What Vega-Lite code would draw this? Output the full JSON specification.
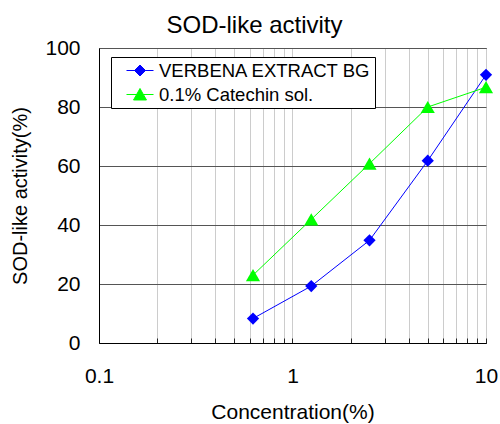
{
  "$schema": "https://vega.github.io/schema/vega-lite/v6.json",
  "width": 387,
  "height": 295,
  "autosize": {"type": "none"},
  "padding": {"left": 99, "top": 48, "right": 14, "bottom": 81},
  "background": "white",
  "config": {
    "font": "Liberation Sans",
    "view": {"stroke": "black", "strokeWidth": 1}
  },
  "title": {
    "text": "SOD-like activity",
    "fontSize": 24,
    "fontWeight": "normal",
    "color": "black",
    "anchor": "middle",
    "dx": -38,
    "offset": -1
  },
  "data": {
    "values": [
      {"conc": 0.625, "activity": 8.3, "series": "VERBENA EXTRACT BG"},
      {"conc": 1.25, "activity": 19.3, "series": "VERBENA EXTRACT BG"},
      {"conc": 2.5, "activity": 34.8, "series": "VERBENA EXTRACT BG"},
      {"conc": 5, "activity": 61.8, "series": "VERBENA EXTRACT BG"},
      {"conc": 10, "activity": 90.9, "series": "VERBENA EXTRACT BG"},
      {"conc": 0.625, "activity": 23, "series": "0.1% Catechin sol."},
      {"conc": 1.25, "activity": 41.9, "series": "0.1% Catechin sol."},
      {"conc": 2.5, "activity": 60.8, "series": "0.1% Catechin sol."},
      {"conc": 5, "activity": 80, "series": "0.1% Catechin sol."},
      {"conc": 10, "activity": 86.7, "series": "0.1% Catechin sol."}
    ]
  },
  "encoding": {
    "x": {
      "field": "conc",
      "type": "quantitative",
      "scale": {"type": "log", "domain": [0.1, 10]},
      "axis": {
        "title": "Concentration(%)",
        "titleFontSize": 21,
        "titleFontWeight": "normal",
        "titleColor": "black",
        "titlePadding": 15,
        "values": [0.1, 0.2, 0.3, 0.4, 0.5, 0.6, 0.7, 0.8, 0.9, 1, 2, 3, 4, 5, 6, 7, 8, 9, 10],
        "format": "~g",
        "labelExpr": "(datum.value == 0.1 || datum.value == 1 || datum.value == 10) ? datum.label : ''",
        "labelFontSize": 21,
        "labelColor": "black",
        "labelPadding": 27,
        "labelOverlap": false,
        "labelFlush": false,
        "domainColor": "black",
        "ticks": true,
        "tickSize": -5,
        "tickColor": "#222222",
        "grid": true,
        "gridColor": "#cccccc",
        "gridWidth": 1
      }
    },
    "y": {
      "field": "activity",
      "type": "quantitative",
      "scale": {"domain": [0, 100]},
      "axis": {
        "title": "SOD-like activity(%)",
        "titleFontSize": 20,
        "titleFontWeight": "normal",
        "titleColor": "black",
        "titlePadding": 14,
        "values": [0, 20, 40, 60, 80, 100],
        "labelFontSize": 21,
        "labelColor": "black",
        "labelPadding": 19,
        "ticks": false,
        "domainColor": "black",
        "grid": true,
        "gridColor": "#555555",
        "gridWidth": 1.2
      }
    }
  },
  "layer": [
    {
      "mark": {"type": "line", "strokeWidth": 1},
      "encoding": {
        "color": {
          "field": "series",
          "type": "nominal",
          "scale": {"domain": ["VERBENA EXTRACT BG", "0.1% Catechin sol."], "range": ["#0000ff", "#00ff00"]},
          "legend": null
        }
      }
    },
    {
      "mark": {"type": "point", "filled": true, "opacity": 1},
      "encoding": {
        "color": {"field": "series", "type": "nominal", "legend": null},
        "shape": {
          "field": "series",
          "type": "nominal",
          "scale": {"domain": ["VERBENA EXTRACT BG", "0.1% Catechin sol."], "range": ["diamond", "triangle-up"]},
          "legend": null
        },
        "size": {
          "field": "series",
          "type": "nominal",
          "scale": {"domain": ["VERBENA EXTRACT BG", "0.1% Catechin sol."], "range": [150, 200]},
          "legend": null
        }
      }
    },
    {
      "mark": {"type": "point", "opacity": 0},
      "encoding": {
        "fill": {
          "field": "series",
          "type": "nominal",
          "scale": {"domain": ["VERBENA EXTRACT BG", "0.1% Catechin sol."], "range": ["#0000ff", "#00ff00"]}
        },
        "stroke": {
          "field": "series",
          "type": "nominal",
          "scale": {"domain": ["VERBENA EXTRACT BG", "0.1% Catechin sol."], "range": ["#0000ff", "#00ff00"]}
        },
        "shape": {
          "field": "series",
          "type": "nominal",
          "scale": {
            "domain": ["VERBENA EXTRACT BG", "0.1% Catechin sol."],
            "range": ["M-1.5,0H1.5M0,-0.61L0.61,0L0,0.61L-0.61,0Z", "M-1.5,0H1.5M0,-0.67L0.72,0.61L-0.72,0.61Z"]
          },
          "legend": {
            "title": null,
            "orient": "none",
            "legendX": 12,
            "legendY": 9,
            "strokeColor": "black",
            "fillColor": "white",
            "padding": 4,
            "symbolOffset": 15.5,
            "labelFontSize": 18.5,
            "labelColor": "black",
            "labelLimit": 0,
            "labelOffset": 9.5,
            "symbolSize": 324,
            "symbolOpacity": 1,
            "symbolStrokeWidth": 1,
            "rowPadding": 5
          }
        }
      }
    }
  ],
  "resolve": {
    "scale": {"shape": "independent", "size": "independent", "fill": "independent", "stroke": "independent"},
    "legend": {"shape": "independent", "fill": "independent", "stroke": "independent"}
  }
}
